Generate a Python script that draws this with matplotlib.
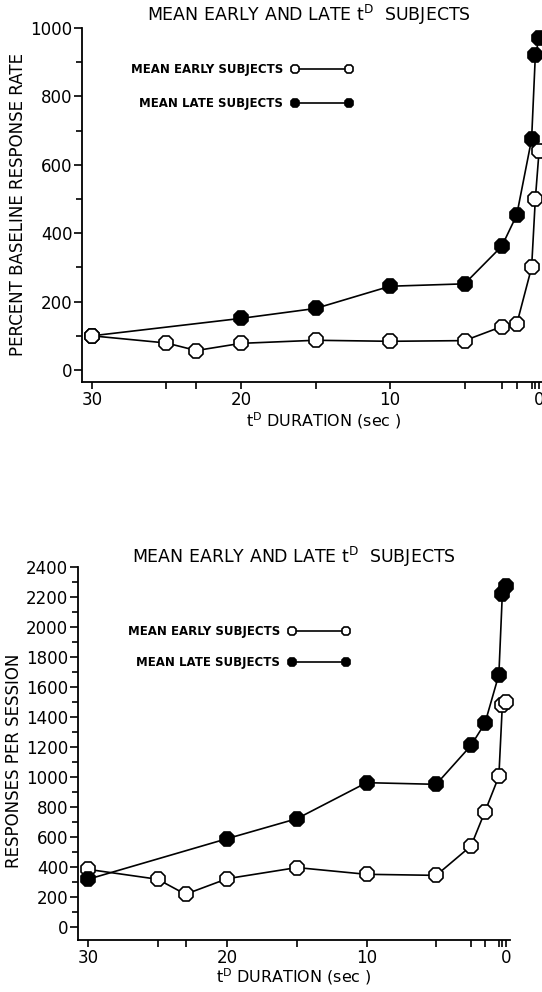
import matplotlib
matplotlib.use("Agg")
import matplotlib.pyplot as plt
from matplotlib.ticker import FixedLocator, MultipleLocator

# t^D durations (sec)
durations_early = [30, 25, 23, 20, 15, 10, 5, 2.5, 1.5, 0.5, 0.25, 0]
durations_late = [30, 20, 15, 10, 5, 2.5, 1.5, 0.5, 0.25, 0]

# top panel: percent baseline response rate
pct_early = [100, 79, 57, 78, 87, 84, 86, 127, 134, 300, 500, 640]
pct_late = [100, 151, 180, 245, 252, 362, 453, 675, 920, 970]

# bottom panel: responses per session
resp_early = [384, 318, 218, 322, 396, 351, 344, 540, 769, 1004, 1480, 1500]
resp_late = [318, 589, 722, 962, 951, 1210, 1358, 1682, 2222, 2274]

x_major = [30, 20, 10, 0]
x_minor = [25, 23, 15, 5, 2.5, 1.5, 0.5, 0.25]

title = r"MEAN EARLY AND LATE $\mathrm{t}^{\mathrm{D}}$  SUBJECTS"
xlab = r"$\mathrm{t}^{\mathrm{D}}$ DURATION (sec )"

plt.rcParams["font.family"] = "DejaVu Sans"
W, H = 542, 992
fig = plt.figure(figsize=(W / 100, H / 100), dpi=100)


def px(x0, y0, x1, y1):
    # pixel box (left, top, right, bottom) -> figure fraction rect
    return [x0 / W, 1 - y1 / H, (x1 - x0) / W, (y1 - y0) / H]


def style_axes(ax, ymax, ystep):
    for s in ("top", "right"):
        ax.spines[s].set_visible(False)
    for s in ("left", "bottom"):
        ax.spines[s].set_linewidth(1.3)
    ax.xaxis.set_major_locator(FixedLocator(x_major))
    ax.xaxis.set_minor_locator(FixedLocator(x_minor))
    ax.set_xticklabels(["30", "20", "10", "0"])
    ax.yaxis.set_major_locator(FixedLocator(list(range(0, ymax + 1, ystep))))
    ax.yaxis.set_minor_locator(MultipleLocator(ystep / 2))
    ax.tick_params(axis="both", which="both", direction="out", width=1.2,
                   labelsize=12, pad=1)
    ax.tick_params(axis="x", which="both", length=5, pad=1.5)
    ax.tick_params(axis="y", which="major", length=6)
    ax.tick_params(axis="y", which="minor", length=4)


def draw(ax, ye, yl, ms, early_top):
    ze, zl = (4, 3) if early_top else (3, 4)
    ax.plot(durations_late, yl, "-", color="black", lw=1.2, marker="8",
            ms=ms, mfc="black", mec="black", mew=1.2,
            label="MEAN LATE SUBJECTS", zorder=zl, clip_on=False)
    ax.plot(durations_early, ye, "-", color="black", lw=1.2, marker="8",
            ms=ms, mfc="white", mec="black", mew=1.2,
            label="MEAN EARLY SUBJECTS", zorder=ze, clip_on=False)


def legend(ax, anchor, spacing):
    h, l = ax.get_legend_handles_labels()
    leg = ax.legend(h[::-1], l[::-1], loc="upper left", bbox_to_anchor=anchor,
                    frameon=False, markerfirst=False, numpoints=2,
                    markerscale=0.6, handlelength=5.2, handletextpad=0.7,
                    labelspacing=spacing, borderpad=0, borderaxespad=0,
                    prop={"size": 8.5, "weight": "bold"})
    return leg


# ---- top panel
ax1 = fig.add_axes(px(82, 28, 548, 382))
ax1.set_xlim(30.67, -0.6)
ax1.set_ylim(-35, 1000)
draw(ax1, pct_early, pct_late, 11.5, True)
style_axes(ax1, 1000, 200)
legend(ax1, (0.105, 0.9), 1.75)
ax1.set_ylabel("PERCENT BASELINE RESPONSE RATE", fontsize=12)
ax1.yaxis.set_label_coords(-0.118, 0.5)
ax1.set_xlabel(xlab, fontsize=11.5, labelpad=0)
ax1.xaxis.set_label_coords(0.52, -0.08)
fig.text(309 / W, 1 - 15 / H, title, ha="center", va="center", fontsize=12.5)

# ---- bottom panel
ax2 = fig.add_axes(px(78, 567, 510, 940))
ax2.set_xlim(30.72, -0.3)
ax2.set_ylim(-87, 2400)
draw(ax2, resp_early, resp_late, 11, False)
style_axes(ax2, 2400, 200)
legend(ax2, (0.115, 0.845), 1.55)
ax2.set_ylabel("RESPONSES PER SESSION", fontsize=12)
ax2.yaxis.set_label_coords(-0.128, 0.48)
ax2.set_xlabel(xlab, fontsize=11.5, labelpad=0)
ax2.xaxis.set_label_coords(0.5, -0.07)
fig.text(294 / W, 1 - 557 / H, title, ha="center", va="center", fontsize=12.5)

fig.savefig("out.png", dpi=100)
